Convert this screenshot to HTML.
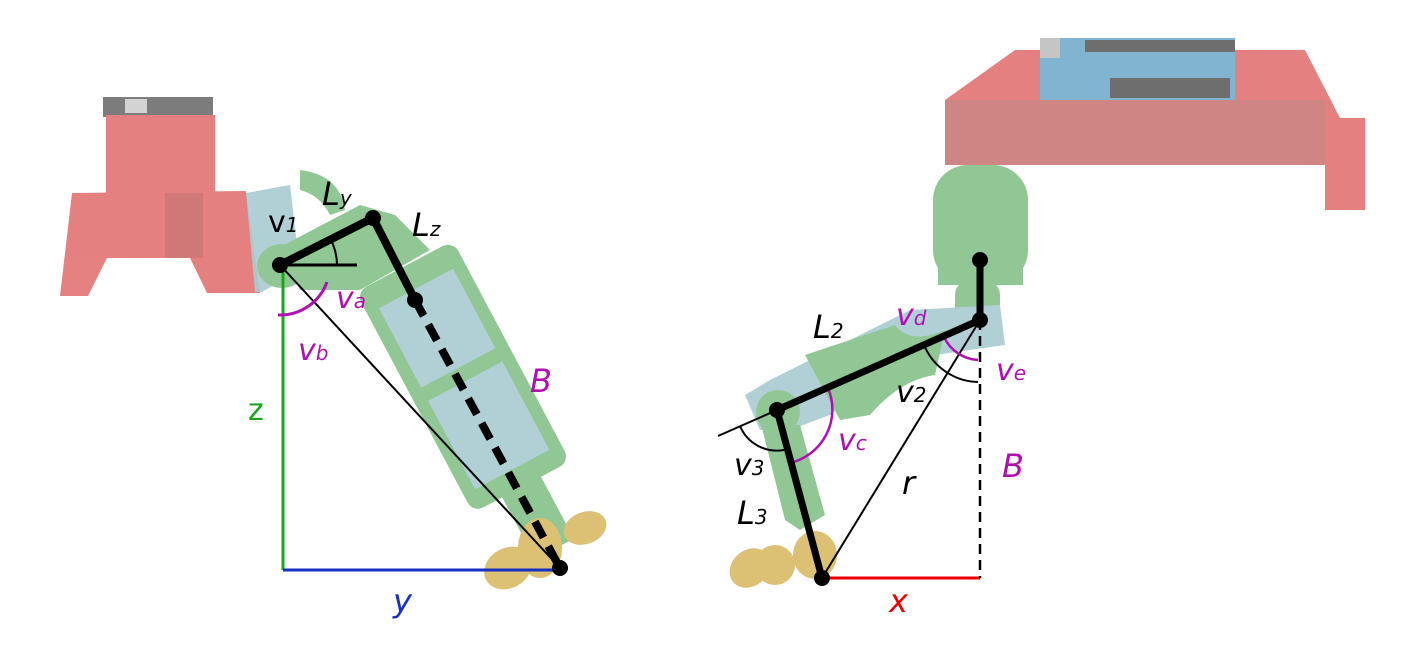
<!DOCTYPE html>
<html><head><meta charset="utf-8"><style>
html,body{margin:0;padding:0;background:#fff;width:1402px;height:668px;overflow:hidden}
svg{display:block}
text{font-family:"DejaVu Sans","Liberation Sans",sans-serif}
</style></head><body>
<svg width="1402" height="668" viewBox="0 0 1402 668">
<!-- LEFT FIGURE -->
<g opacity="0.85">
  <rect x="103" y="97" width="110" height="20" fill="#666"/>
  <rect x="125" y="99" width="22" height="14" fill="#ccc"/>
  <rect x="106" y="115" width="109" height="80" fill="#e06b6b"/>
  <polygon points="72,193 246,191 260,293 207,293 190,258 107,258 88,296 60,296" fill="#e06b6b"/>
  <rect x="165" y="193" width="38" height="65" fill="#c86060"/>
</g>
<g opacity="0.9">
  <polygon points="246,193 290,185 300,270 262,292 255,292" fill="#a9ccd2"/>
  <path d="M300,170 Q340,175 345,210 L330,215 Q320,195 300,190 Z" fill="#86c28a"/>
  <ellipse cx="282" cy="266" rx="25" ry="22" fill="#86c28a"/>
  <polygon points="282,246 360,205 395,215 430,250 360,290 300,290" fill="#86c28a"/>
  <g transform="translate(470,390) rotate(-28)">
    <rect x="-55" y="-140" width="110" height="250" rx="12" fill="#86c28a"/>
    <rect x="-42" y="-115" width="84" height="90" fill="#a9ccd2"/>
    <rect x="-42" y="-10" width="84" height="100" fill="#a9ccd2"/>
    <rect x="-22" y="100" width="44" height="80" fill="#86c28a"/>
  </g>
  <ellipse cx="508" cy="568" rx="25" ry="20" fill="#d9ba66" transform="rotate(-30 508 568)"/>
  <ellipse cx="585" cy="528" rx="22" ry="16" fill="#d9ba66" transform="rotate(-20 585 528)"/>
  <ellipse cx="540" cy="548" rx="22" ry="30" fill="#d9ba66"/>
</g>
<g>
  <line x1="283" y1="268" x2="283" y2="570" stroke="#1aa51a" stroke-width="3"/>
  <line x1="283" y1="570" x2="560" y2="570" stroke="#1530c0" stroke-width="3"/>
  <line x1="280" y1="265" x2="560" y2="568" stroke="#000" stroke-width="2"/>
  <line x1="280" y1="265" x2="357" y2="265" stroke="#000" stroke-width="3"/>
  <path d="M337,265 A57,57 0 0 0 331,240" fill="none" stroke="#000" stroke-width="2"/>
  <path d="M278,315 A50,50 0 0 0 327,282" fill="none" stroke="#b010b0" stroke-width="3"/>
  <polyline points="280,265 373,218 415,300" fill="none" stroke="#000" stroke-width="8" stroke-linejoin="round"/>
  <line x1="415" y1="300" x2="560" y2="568" stroke="#000" stroke-width="8" stroke-dasharray="18,10"/>
  <circle cx="280" cy="265" r="8" fill="#000"/>
  <circle cx="373" cy="218" r="8" fill="#000"/>
  <circle cx="415" cy="300" r="8" fill="#000"/>
  <circle cx="560" cy="568" r="8" fill="#000"/>
</g>
<g>
  <text x="268" y="232" font-size="30">v<tspan font-size="20" font-style="italic">1</tspan></text>
  <text x="322" y="205" font-size="32" font-style="italic">L<tspan font-size="20">y</tspan></text>
  <text x="412" y="236" font-size="32" font-style="italic">L<tspan font-size="20">z</tspan></text>
  <text x="336" y="308" font-size="30" font-style="italic" fill="#b010b0">v<tspan font-size="20">a</tspan></text>
  <text x="298" y="360" font-size="30" font-style="italic" fill="#b010b0">v<tspan font-size="20">b</tspan></text>
  <text x="530" y="392" font-size="32" font-style="italic" fill="#b010b0">B</text>
  <text x="248" y="420" font-size="30" fill="#1aa51a">z</text>
  <text x="393" y="612" font-size="32" font-style="italic" fill="#1530c0">y</text>
</g>

<!-- RIGHT FIGURE -->
<g opacity="0.85">
  <polygon points="945,100 1015,50 1305,50 1340,118 1365,118 1365,210 1325,210 1325,165 945,165" fill="#e06b6b"/>
  <rect x="945" y="100" width="380" height="65" fill="#c87070"/>
  <rect x="1040" y="38" width="195" height="62" fill="#6aa8c8"/>
  <rect x="1040" y="38" width="20" height="20" fill="#bbb"/>
  <rect x="1085" y="40" width="150" height="12" fill="#555"/>
  <rect x="1110" y="78" width="120" height="20" fill="#555"/>
</g>
<g opacity="0.9">
  <rect x="933" y="165" width="95" height="120" rx="35" fill="#86c28a"/>
  <rect x="938" y="250" width="85" height="35" fill="#86c28a"/>
  <rect x="955" y="280" width="45" height="65" rx="15" fill="#86c28a"/>
  <polygon points="745,395 770,380 910,310 1000,305 1005,345 900,360 830,415 790,430 760,430" fill="#a9ccd2"/>
  <path d="M805,355 L895,325 Q910,345 945,330 L935,375 Q900,380 870,415 L840,420 Z" fill="#86c28a"/>
  <ellipse cx="778" cy="412" rx="22" ry="22" fill="#86c28a"/>
  <polygon points="760,420 800,425 825,515 800,530 785,520" fill="#86c28a"/>
  <ellipse cx="750" cy="568" rx="22" ry="18" fill="#d9ba66" transform="rotate(-40 750 568)"/>
  <ellipse cx="775" cy="565" rx="20" ry="20" fill="#d9ba66"/>
  <ellipse cx="815" cy="555" rx="22" ry="24" fill="#d9ba66"/>
</g>
<g>
  <line x1="822" y1="578" x2="980" y2="578" stroke="#e00" stroke-width="3"/>
  <line x1="980" y1="320" x2="980" y2="578" stroke="#000" stroke-width="2.5" stroke-dasharray="10,6"/>
  <line x1="822" y1="578" x2="980" y2="320" stroke="#000" stroke-width="2"/>
  <line x1="777" y1="410" x2="718" y2="436" stroke="#000" stroke-width="2"/>
  <path d="M924,345 A60,60 0 0 0 978,382" fill="none" stroke="#000" stroke-width="2"/>
  <path d="M944,337 A40,40 0 0 0 978,360" fill="none" stroke="#b010b0" stroke-width="2.5"/>
  <path d="M740,426 A40,40 0 0 0 784,450" fill="none" stroke="#000" stroke-width="2"/>
  <path d="M828,388 A55,55 0 0 1 790,463" fill="none" stroke="#b010b0" stroke-width="2.5"/>
  <polyline points="980,260 980,320 777,410 822,578" fill="none" stroke="#000" stroke-width="7" stroke-linejoin="round"/>
  <circle cx="980" cy="260" r="8" fill="#000"/>
  <circle cx="980" cy="320" r="8" fill="#000"/>
  <circle cx="777" cy="410" r="8" fill="#000"/>
  <circle cx="822" cy="578" r="8" fill="#000"/>
</g>
<g>
  <text x="813" y="338" font-size="32" font-style="italic">L<tspan font-size="20">2</tspan></text>
  <text x="896" y="325" font-size="30" font-style="italic" fill="#b010b0">v<tspan font-size="20">d</tspan></text>
  <text x="996" y="380" font-size="30" font-style="italic" fill="#b010b0">v<tspan font-size="20">e</tspan></text>
  <text x="896" y="402" font-size="30" font-style="italic">v<tspan font-size="20">2</tspan></text>
  <text x="838" y="450" font-size="30" font-style="italic" fill="#b010b0">v<tspan font-size="20">c</tspan></text>
  <text x="734" y="475" font-size="30" font-style="italic">v<tspan font-size="20">3</tspan></text>
  <text x="902" y="494" font-size="32" font-style="italic">r</text>
  <text x="1002" y="477" font-size="32" font-style="italic" fill="#b010b0">B</text>
  <text x="737" y="524" font-size="32" font-style="italic">L<tspan font-size="20">3</tspan></text>
  <text x="889" y="612" font-size="32" font-style="italic" fill="#e00">x</text>
</g>
</svg>
</body></html>
